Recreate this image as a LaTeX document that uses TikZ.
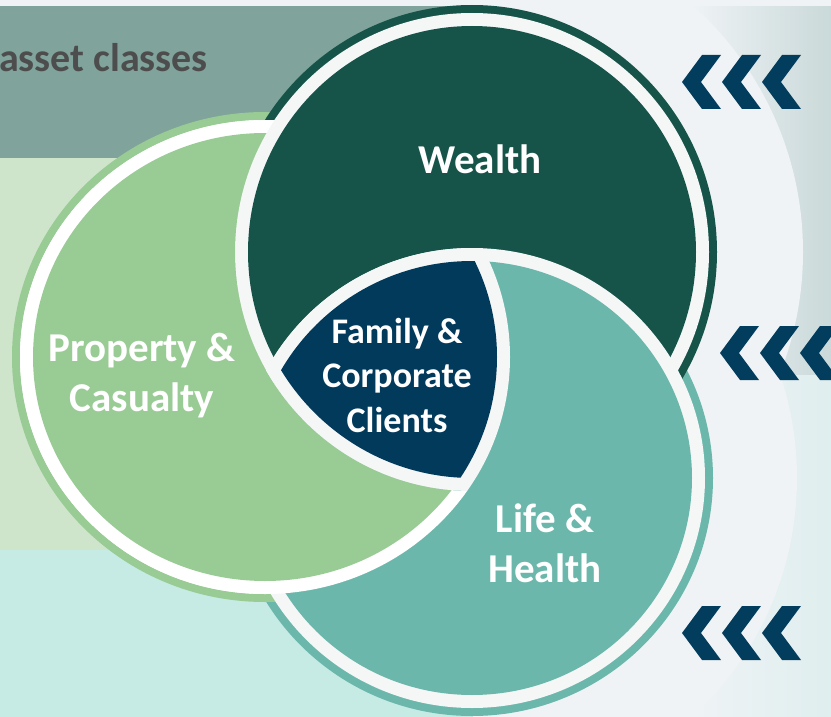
\documentclass[tikz,border=0pt]{standalone}
\usepackage{fontspec}
\setmainfont{Carlito}
\definecolor{bgcol}{HTML}{EFF3F6}
\definecolor{bandtop}{HTML}{80A39C}
\definecolor{bandmid}{HTML}{CFE5CB}
\definecolor{bandlow}{HTML}{C6EBE4}
\definecolor{gradtop}{HTML}{CAD9D9}
\definecolor{gradlow}{HTML}{DFEEEE}
\definecolor{wlcol}{HTML}{16544A}
\definecolor{pccol}{HTML}{99CB95}
\definecolor{lhcol}{HTML}{6CB7AB}
\definecolor{navycol}{HTML}{023A5C}
\definecolor{chevcol}{HTML}{033D5E}
\definecolor{ringcol}{HTML}{F5F7F7}
\definecolor{titlecol}{HTML}{4D4D4D}
\tikzset{
  venntext/.style={text=white,font={\bfseries\fontsize{41}{50}\selectfont},align=center,inner sep=0pt},
  coretext/.style={venntext,font={\bfseries\fontsize{36}{44.5}\selectfont}},
  titletext/.style={text=titlecol,font={\bfseries\fontsize{40}{48}\selectfont},inner sep=0pt}
}
\begin{document}
\begin{tikzpicture}[x=1pt,y=-1pt]
\useasboundingbox (0,0) rectangle (831,717);
\clip (0,0) rectangle (831,717);
\coordinate (pcc) at (265,357);
\coordinate (wlc) at (472,252);
\coordinate (lhc) at (472,478);
% background bands
\fill[bgcol] (0,0) rectangle (831,717);
\fill[bandtop] (0,6) rectangle (470,158);
\fill[bandmid] (0,158) rectangle (300,550);
\fill[bandlow] (0,550) rectangle (473,717);
\shade[left color=bgcol,right color=gradtop] (690,7) rectangle (831,375);
\shade[left color=bgcol,right color=gradlow] (690,375) rectangle (831,717);
\begin{scope}
  \clip (690,7) rectangle (831,375);
  \fill[bgcol] (wlc) circle (331pt);
\end{scope}
\begin{scope}
  \clip (690,375) rectangle (831,717);
  \fill[bgcol] (lhc) circle (325pt);
\end{scope}
% outer rims
\fill[lhcol] (lhc) ellipse (241pt and 238pt);
\fill[pccol] (pcc) ellipse (253pt and 245pt);
\fill[wlcol] (wlc) ellipse (245pt and 247pt);
% discs
\fill[white] (pcc) ellipse (245pt and 237pt);
\fill[pccol] (pcc) ellipse (232pt and 224pt);
\fill[ringcol] (wlc) ellipse (237pt and 239pt);
\fill[wlcol] (wlc) ellipse (224pt and 226pt);
\fill[ringcol] (lhc) ellipse (233pt and 230pt);
\fill[lhcol] (lhc) ellipse (220pt and 217pt);
% property over life, outside wealth
\begin{scope}[even odd rule]
  \clip (0,0) rectangle (831,717) (wlc) ellipse (237pt and 239pt);
  \fill[white] (pcc) ellipse (245pt and 237pt);
  \fill[pccol] (pcc) ellipse (232pt and 224pt);
\end{scope}
% core
\begin{scope}
  \clip (pcc) ellipse (245pt and 237pt);
  \clip (wlc) ellipse (237pt and 239pt);
  \fill[ringcol] (lhc) ellipse (233pt and 230pt);
  \clip (pcc) ellipse (232pt and 224pt);
  \clip (wlc) ellipse (224pt and 226pt);
  \fill[navycol] (lhc) ellipse (220pt and 217pt);
\end{scope}
% texts
\node[titletext,anchor=base west] (title) at (-1,72) {asset classes};
\node[venntext,anchor=base] (wealth) at (480,173) {Wealth};
\node[venntext] (pc) at (142,376) {Property \&\\Casualty};
\node[coretext] (fcc) at (397,375) {Family \&\\Corporate\\Clients};
\node[venntext] (lh) at (545,543) {Life \&\\Health};
% chevrons
\foreach \cx/\cy in {682/82,720/353,682/633}
  \foreach \i in {0,1,2}
    \fill[chevcol] (\cx+40*\i,\cy) -- ++(20,-27) -- ++(19,0) -- ++(-20,27)
      -- ++(20,27) -- ++(-19,0) -- cycle;
\end{tikzpicture}
\end{document}
